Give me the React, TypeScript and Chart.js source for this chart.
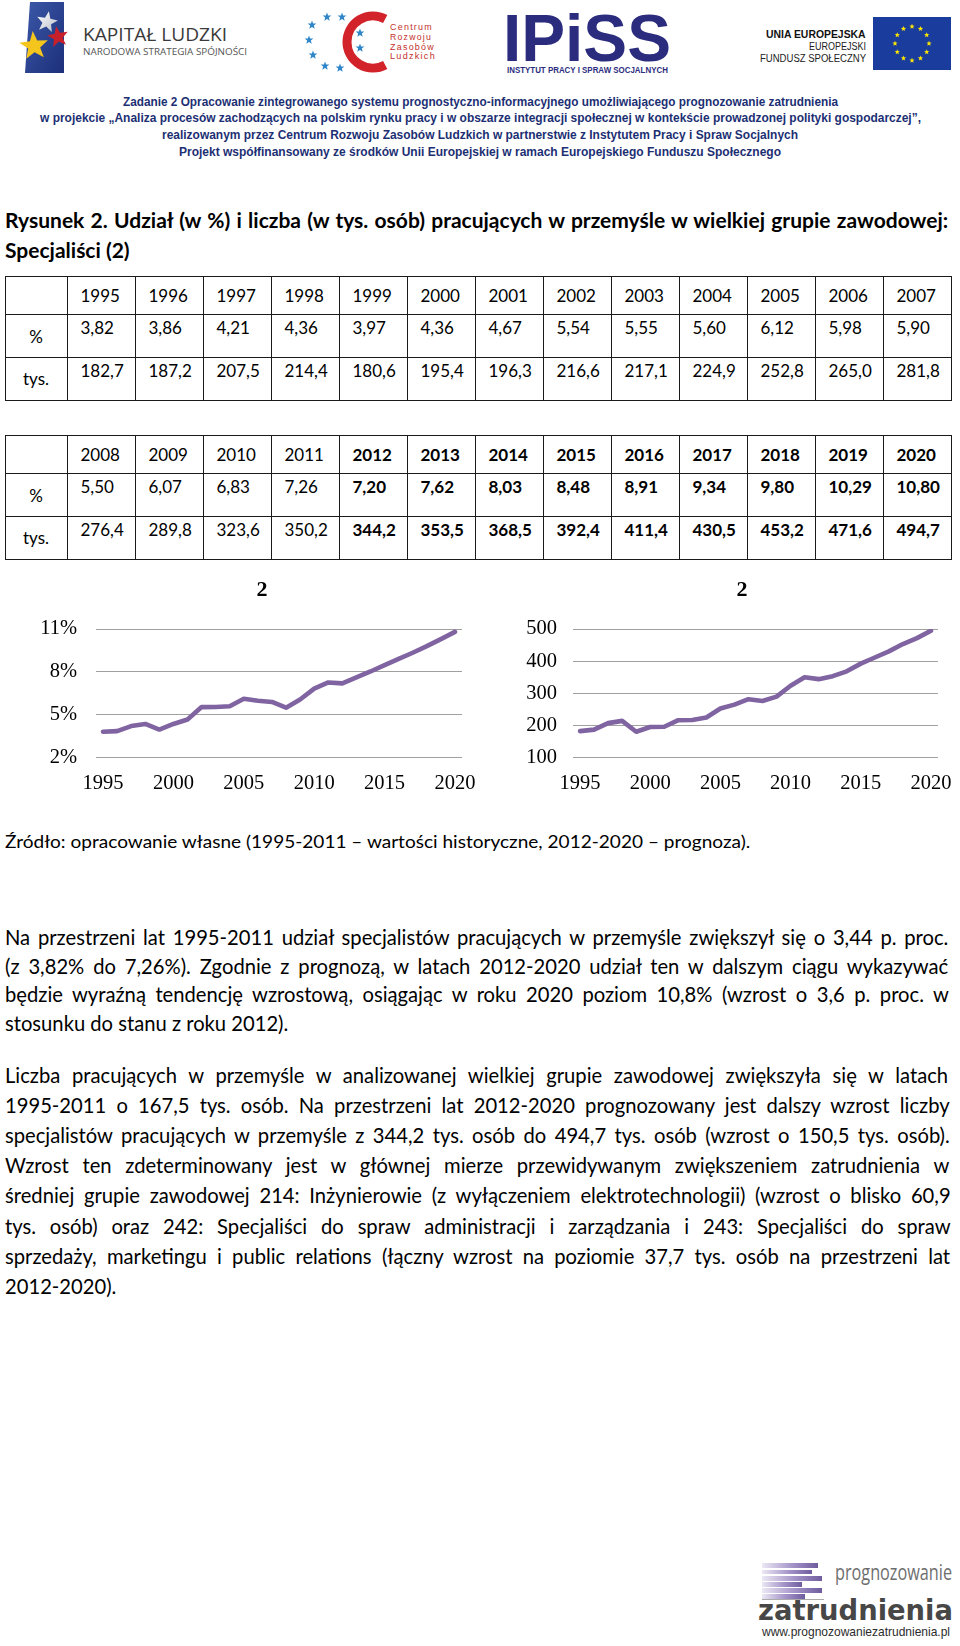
import React, { useEffect, useRef } from 'react';
import { Chart, registerables } from 'chart.js';

Chart.register(...registerables);

// ---------------- data ----------------
const years = [1995, 1996, 1997, 1998, 1999, 2000, 2001, 2002, 2003, 2004, 2005, 2006, 2007, 2008, 2009, 2010, 2011, 2012, 2013, 2014, 2015, 2016, 2017, 2018, 2019, 2020];
const sharePct = [3.82, 3.86, 4.21, 4.36, 3.97, 4.36, 4.67, 5.54, 5.55, 5.6, 6.12, 5.98, 5.9, 5.5, 6.07, 6.83, 7.26, 7.2, 7.62, 8.03, 8.48, 8.91, 9.34, 9.8, 10.29, 10.8];
const employedThous = [182.7, 187.2, 207.5, 214.4, 180.6, 195.4, 196.3, 216.6, 217.1, 224.9, 252.8, 265.0, 281.8, 276.4, 289.8, 323.6, 350.2, 344.2, 353.5, 368.5, 392.4, 411.4, 430.5, 453.2, 471.6, 494.7];
const forecastFrom = 2012;
const xTickLabels = ['1995', '2000', '2005', '2010', '2015', '2020'];
const pctTicks = [2, 5, 8, 11];
const thousTicks = [100, 200, 300, 400, 500];

// ---------------- fonts / colours ----------------
const BODY = 'Lato';
const SANS = '"Liberation Sans"';
const LINE_COLOR = '#8064a2';
const GRID_COLOR = '#a0a0a0';

let measureCtx: CanvasRenderingContext2D | null = null;
function measure(text: string, font: string): number {
  if (!measureCtx) measureCtx = document.createElement('canvas').getContext('2d');
  measureCtx!.font = font;
  return measureCtx!.measureText(text).width;
}

type FTProps = {
  text: string; x: number; y: number; w?: number; size: number; family: string;
  weight?: string | number; color?: string; align?: 'left' | 'center' | 'right';
  mode?: 'scale' | 'justify' | 'none'; spacing?: number; lhf?: number;
};
function FitText({ text, x, y, w, size, family, weight = 'normal', color = '#000', align = 'left', mode = 'scale', spacing = 0, lhf = 1.3 }: FTProps) {
  const font = `${weight} ${size}px ${family}`;
  const nat = measure(text, font) + spacing * text.length;
  let scale = 1;
  let wordSpacing = 0;
  if (w && mode === 'scale') scale = w / nat;
  else if (w && mode === 'justify') {
    const spaces = (text.match(/ /g) || []).length;
    if (nat <= w) { if (spaces) wordSpacing = (w - nat) / spaces; }
    else scale = w / nat;
  }
  const finalW = w && mode !== 'none' ? w : nat;
  const left = align === 'left' ? x : align === 'center' ? x - finalW / 2 : x - finalW;
  const lh = Math.round(size * lhf);
  return (
    <div style={{
      position: 'absolute', left, top: y - lh / 2, height: lh, lineHeight: lh + 'px',
      whiteSpace: 'pre', fontFamily: family, fontSize: size, fontWeight: weight as any, color,
      transform: scale !== 1 ? `scaleX(${scale})` : undefined, transformOrigin: '0 0',
      wordSpacing: wordSpacing ? wordSpacing + 'px' : undefined,
      letterSpacing: spacing ? spacing + 'px' : undefined,
    }}>{text}</div>
  );
}

function starPts(cx: number, cy: number, r: number, rot = -90, inner = 0.42) {
  const pts: string[] = [];
  for (let i = 0; i < 10; i++) {
    const a = ((rot + i * 36) * Math.PI) / 180;
    const rr = i % 2 === 0 ? r : r * inner;
    pts.push(`${(cx + rr * Math.cos(a)).toFixed(2)},${(cy + rr * Math.sin(a)).toFixed(2)}`);
  }
  return pts.join(' ');
}

// ---------------- header ----------------
function Header() {
  const crzlStars = [[312, 25], [327, 17], [342, 17], [309, 40], [313, 55], [325, 66], [340, 68], [360, 33], [360, 48]];
  const euStars = Array.from({ length: 12 }, (_, i) => {
    const a = (i * 30 * Math.PI) / 180;
    return [912 + 17 * Math.cos(a), 43.5 + 17 * Math.sin(a)];
  });
  const r = 26, cx = 373, cy = 42;
  const a1 = (-62 * Math.PI) / 180, a2 = (62 * Math.PI) / 180;
  const cPath = `M ${cx + r * Math.cos(a1)} ${cy + r * Math.sin(a1)} A ${r} ${r} 0 1 0 ${cx + r * Math.cos(a2)} ${cy + r * Math.sin(a2)}`;
  return (
    <>
      <svg width={960} height={80} style={{ position: 'absolute', left: 0, top: 0 }}>
        <defs>
          <linearGradient id="klblue" x1="0" y1="0" x2="1" y2="1">
            <stop offset="0" stopColor="#3b58a8" />
            <stop offset="1" stopColor="#1c2f7a" />
          </linearGradient>
          <linearGradient id="silver" x1="0" y1="0" x2="1" y2="1">
            <stop offset="0" stopColor="#ffffff" />
            <stop offset="1" stopColor="#b9bcc8" />
          </linearGradient>
        </defs>
        <polygon points="30,2 64,2 64,73 25,73" fill="url(#klblue)" />
        <polygon points={starPts(47, 22, 11, -80)} fill="url(#silver)" />
        <polygon points={starPts(58, 37, 11, -100)} fill="#c8202a" />
        <polygon points={starPts(34, 46, 15, -95)} fill="#f4c51c" />
        {crzlStars.map(([x, y], i) => <polygon key={i} points={starPts(x, y, 4.6)} fill="#2e86c8" />)}
        <path d={cPath} stroke="#d2232a" strokeWidth={9} fill="none" />
        <rect x={873} y={17} width={78} height={53} fill="#1a3c9c" />
        {euStars.map(([x, y], i) => <polygon key={i} points={starPts(x, y, 2.8)} fill="#ffe600" />)}
      </svg>
      <FitText text="KAPITAŁ LUDZKI" x={83} y={33.5} w={144} size={18} family={'"Open Sans"'} color="#3a3a3a" lhf={1.1} />
      <FitText text="NARODOWA STRATEGIA SPÓJNOŚCI" x={83} y={52} w={164} size={9.5} family={'"Open Sans"'} color="#555" lhf={1.1} />
      <FitText text="Centrum" x={390} y={27} w={43} size={8.5} family={SANS} color="#c4302b" spacing={1.2} lhf={1.1} />
      <FitText text="Rozwoju" x={390} y={37} w={42} size={8.5} family={SANS} color="#c4302b" spacing={1.2} lhf={1.1} />
      <FitText text="Zasobów" x={390} y={47} w={45} size={8.5} family={SANS} color="#c4302b" spacing={1.2} lhf={1.1} />
      <FitText text="Ludzkich" x={390} y={56} w={46} size={8.5} family={SANS} color="#c4302b" spacing={1.2} lhf={1.1} />
      <FitText text="IPiSS" x={587} y={38} w={168} size={66} family={SANS} weight="bold" color="#2b2c7e" align="center" lhf={0.75} />
      <FitText text="INSTYTUT PRACY I SPRAW SOCJALNYCH" x={587} y={70} w={161} size={9} family={SANS} weight="bold" color="#2b2c7e" align="center" lhf={1.1} />
      <FitText text="UNIA EUROPEJSKA" x={866} y={34} w={100} size={11} family={SANS} weight="bold" color="#111" align="right" lhf={1.05} />
      <FitText text="EUROPEJSKI" x={866} y={46} w={57} size={10} family={SANS} color="#222" align="right" lhf={1.05} />
      <FitText text="FUNDUSZ SPOŁECZNY" x={866} y={58} w={106} size={10} family={SANS} color="#222" align="right" lhf={1.05} />
    </>
  );
}

const headerLines = [
  { t: 'Zadanie 2 Opracowanie zintegrowanego systemu prognostyczno-informacyjnego umożliwiającego prognozowanie zatrudnienia', w: 715, y: 101 },
  { t: 'w projekcie „Analiza procesów zachodzących na polskim rynku pracy i w obszarze integracji społecznej w kontekście prowadzonej polityki gospodarczej”,', w: 881, y: 117.5 },
  { t: 'realizowanym przez Centrum Rozwoju Zasobów Ludzkich w partnerstwie z Instytutem Pracy i Spraw Socjalnych', w: 636, y: 134 },
  { t: 'Projekt współfinansowany ze środków Unii Europejskiej w ramach Europejskiego Funduszu Społecznego', w: 602, y: 151 },
];

// ---------------- table ----------------
const fmtPct = (v: number) => v.toFixed(2).replace('.', ',');
const fmtThous = (v: number) => v.toFixed(1).replace('.', ',');

function DataTable({ top, start }: { top: number; start: number }) {
  const rowH = [38, 43, 43];
  const firstW = 62, colW = 68, left = 5;
  const total = firstW + 13 * colW;
  const ys = [top, top + rowH[0], top + rowH[0] + rowH[1], top + rowH[0] + rowH[1] + rowH[2]];
  const xs = [left, left + firstW];
  for (let i = 1; i <= 13; i++) xs.push(left + firstW + i * colW);
  const els: any[] = [];
  ys.forEach((y, i) => els.push(<div key={'h' + i} style={{ position: 'absolute', left, top: y, width: total + 1, height: 1, background: '#1a1a1a' }} />));
  xs.forEach((x, i) => els.push(<div key={'v' + i} style={{ position: 'absolute', left: x, top, width: 1, height: ys[3] - top + 1, background: '#1a1a1a' }} />));
  for (let i = 0; i < 13; i++) {
    const idx = start + i;
    const yr = years[idx];
    const bold = yr >= forecastFrom ? 'bold' : 'normal';
    const cl = left + firstW + i * colW + 13.5;
    els.push(<FitText key={'y' + i} text={String(yr)} x={cl} y={ys[0] + 19.5} size={17} family={BODY} weight={bold} mode="none" />);
    els.push(<FitText key={'p' + i} text={fmtPct(sharePct[idx])} x={cl} y={ys[1] + 14} size={17} family={BODY} weight={bold} mode="none" />);
    els.push(<FitText key={'t' + i} text={fmtThous(employedThous[idx])} x={cl} y={ys[2] + 14} size={17} family={BODY} weight={bold} mode="none" />);
  }
  els.push(<FitText key="l1" text="%" x={left + firstW / 2} y={(ys[1] + ys[2]) / 2 + 1} size={17} family={BODY} align="center" mode="none" />);
  els.push(<FitText key="l2" text="tys." x={left + firstW / 2} y={(ys[2] + ys[3]) / 2} size={17} family={BODY} align="center" mode="none" />);
  return <>{els}</>;
}

// ---------------- chart ----------------
// Canvas geometry: chart area spans [left+padLeft+yAxisWidth, left+width-rightBox];
// the title is centred over [left+padLeft, left+width].
type LCProps = {
  left: number; top: number; width: number; height: number; values: number[]; ticks: number[]; suffix: string;
  padLeft: number; yAxisWidth: number; rightBox: number; yTickPad: number;
};
function LineChart({ left, top, width, height, values, ticks, suffix, padLeft, yAxisWidth, rightBox, yTickPad }: LCProps) {
  const ref = useRef<HTMLCanvasElement>(null);
  useEffect(() => {
    const tickFont = { family: 'Liberation Serif', size: 20.5 };
    const chart = new Chart(ref.current!, {
      type: 'line',
      data: {
        labels: years.map(String),
        datasets: [{
          data: values, yAxisID: 'y', borderColor: LINE_COLOR, backgroundColor: LINE_COLOR, borderWidth: 4.6,
          pointRadius: 0, tension: 0, borderJoinStyle: 'round', borderCapStyle: 'round', fill: false,
        }],
      },
      options: {
        animation: false, responsive: false, maintainAspectRatio: false, devicePixelRatio: 1,
        events: [],
        layout: { padding: { left: padLeft, right: 0, top: 0, bottom: 0 } },
        plugins: {
          legend: { display: false }, tooltip: { enabled: false },
          title: {
            display: true, text: '2', color: '#000',
            font: { family: 'Liberation Serif', size: 22, weight: 'bold', lineHeight: 1.2 },
            padding: { top: 7, bottom: 25.6 },
          },
        },
        scales: {
          x: {
            type: 'category', offset: true,
            grid: { display: false }, border: { display: false },
            ticks: {
              autoSkip: false, maxRotation: 0, minRotation: 0, padding: 6, color: '#000', font: tickFont,
              callback: function (this: any, value: any) {
                const lab = this.getLabelForValue(value);
                return xTickLabels.includes(lab) ? lab : '';
              },
            },
            afterFit: (s: any) => { s.height = height - 187.7; },
          },
          y: {
            position: 'left',
            min: ticks[0], max: ticks[ticks.length - 1],
            border: { display: false },
            grid: { color: GRID_COLOR, lineWidth: 1, drawTicks: false },
            ticks: {
              stepSize: ticks[1] - ticks[0], padding: yTickPad, color: '#000', font: tickFont,
              callback: (v: any) => v + suffix,
            },
            afterFit: (s: any) => { s.width = yAxisWidth; },
          },
          yR: {
            type: 'linear', position: 'right', display: true,
            grid: { display: false }, border: { display: false }, ticks: { display: false },
            afterFit: (s: any) => { s.width = rightBox; },
          },
        },
      } as any,
    });
    return () => chart.destroy();
  }, []);
  return <canvas ref={ref} width={width} height={height} style={{ position: 'absolute', left, top, width, height }} />;
}

// ---------------- text ----------------
const para1 = [
  'Na przestrzeni lat 1995-2011 udział specjalistów pracujących w przemyśle zwiększył się o 3,44 p. proc.',
  '(z 3,82% do 7,26%). Zgodnie z prognozą, w latach 2012-2020 udział ten w dalszym ciągu wykazywać',
  'będzie wyraźną tendencję wzrostową, osiągając w roku 2020 poziom 10,8% (wzrost o 3,6 p. proc. w',
  'stosunku do stanu z roku 2012).',
];
const para2 = [
  'Liczba pracujących w przemyśle w analizowanej wielkiej grupie zawodowej zwiększyła się w latach',
  '1995-2011 o 167,5 tys. osób. Na przestrzeni lat 2012-2020 prognozowany jest dalszy wzrost liczby',
  'specjalistów pracujących w przemyśle z 344,2 tys. osób do 494,7 tys. osób (wzrost o 150,5 tys. osób).',
  'Wzrost ten zdeterminowany jest w głównej mierze przewidywanym zwiększeniem zatrudnienia w',
  'średniej grupie zawodowej 214: Inżynierowie (z wyłączeniem elektrotechnologii) (wzrost o blisko 60,9',
  'tys. osób) oraz 242: Specjaliści do spraw administracji i zarządzania i 243: Specjaliści do spraw',
  'sprzedaży, marketingu i public relations (łączny wzrost na poziomie 37,7 tys. osób na przestrzeni lat',
  '2012-2020).',
];

function Paragraph({ lines, y0, step }: { lines: string[]; y0: number; step: number }) {
  return (
    <>
      {lines.map((t, i) => (
        <FitText key={i} text={t} x={5} y={y0 + i * step} w={946} size={20.2} family={BODY}
          mode={i === lines.length - 1 ? 'none' : 'justify'} lhf={1.2} />
      ))}
    </>
  );
}

function Footer() {
  const bars = [[1563, 56], [1569.5, 50], [1576, 60], [1582, 40], [1588, 60], [1594, 43]];
  return (
    <>
      {bars.map(([y, w], i) => (
        <div key={i} style={{ position: 'absolute', left: 762, top: y, width: w, height: 4.5, background: 'linear-gradient(90deg, #ece8f4 0%, #a393c8 55%, #6f5c9e 100%)' }} />
      ))}
      <div style={{ position: 'absolute', left: 762, top: 1599, width: 62, height: 1, background: '#aaa' }} />
      <FitText text="prognozowanie" x={835} y={1572} w={117} size={21} family={'"Open Sans"'} color="#6d6d6d" lhf={1.0} />
      <FitText text="zatrudnienia" x={758} y={1610} w={195} size={29} family={'"DejaVu Sans"'} weight="bold" color="#474747" lhf={0.8} />
      <FitText text="www.prognozowaniezatrudnienia.pl" x={762} y={1631} w={188} size={13} family={SANS} color="#2c2c2c" lhf={1.0} />
    </>
  );
}

export default function App() {
  return (
    <div style={{ position: 'absolute', left: 0, top: 0, width: 960, height: 1646, background: '#fff', overflow: 'hidden' }}>
      <Header />
      {headerLines.map((l, i) => (
        <FitText key={i} text={l.t} x={480} y={l.y} w={l.w} size={13} family={SANS} weight="bold" color="#1c2f73" align="center" lhf={1.15} />
      ))}
      <FitText text="Rysunek 2. Udział (w %) i liczba (w tys. osób) pracujących w przemyśle w wielkiej grupie zawodowej:" x={5} y={219} w={947} size={21} family={BODY} weight="bold" mode="justify" lhf={1.2} />
      <FitText text="Specjaliści (2)" x={5} y={249} size={21} family={BODY} weight="bold" mode="none" lhf={1.2} />
      <DataTable top={276} start={0} />
      <DataTable top={435} start={13} />
      <LineChart left={0} top={570} width={494} height={230} values={sharePct} ticks={pctTicks} suffix="%"
        padLeft={30} yAxisWidth={66} rightBox={32} yTickPad={19} />
      <LineChart left={480} top={570} width={494} height={230} values={employedThous} ticks={thousTicks} suffix=""
        padLeft={30} yAxisWidth={63} rightBox={36} yTickPad={16} />
      <FitText text="Źródło: opracowanie własne (1995-2011 – wartości historyczne, 2012-2020 – prognoza)." x={5} y={841} w={746} size={18} family={BODY} lhf={1.2} />
      <Paragraph lines={para1} y0={937} step={28.7} />
      <Paragraph lines={para2} y0={1075} step={30.1} />
      <Footer />
    </div>
  );
}
